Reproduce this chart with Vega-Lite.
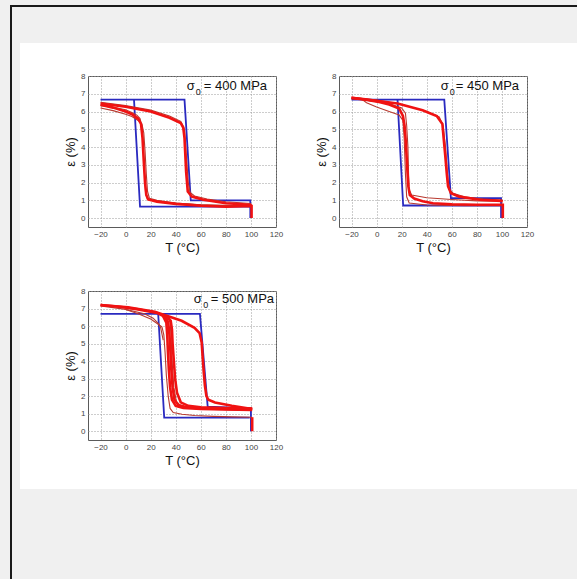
{
  "$schema": "https://vega.github.io/schema/vega-lite/v6.json",
  "background": "white",
  "padding": 0,
  "config": {
    "font": "Liberation Sans",
    "view": {"stroke": "#5a5a5a", "strokeWidth": 1},
    "axis": {
      "grid": true, "gridDash": [1, 2], "gridColor": "#9a9a9a", "gridWidth": 1,
      "domain": false, "ticks": false,
      "labelFont": "Liberation Sans", "labelFontSize": 8, "labelColor": "#444",
      "labelPadding": 3,
      "titleFont": "Liberation Sans", "titleFontSize": 13, "titleFontWeight": "normal", "titleColor": "#111",
      "titlePadding": 3
    }
  },
  "datasets": {
    "p400": [
      {"s":"b","g":"a","T":-20,"e":6.67},{"s":"b","g":"a","T":47,"e":6.67},{"s":"b","g":"a","T":52,"e":1.0},{"s":"b","g":"a","T":99.5,"e":1.0},{"s":"b","g":"a","T":99.5,"e":0},
      {"s":"b","g":"c","T":99.5,"e":0.65},{"s":"b","g":"c","T":11.5,"e":0.65},{"s":"b","g":"c","T":6.7,"e":6.67},
      {"s":"k","g":"h","T":-20,"e":6.45},{"s":"k","g":"h","T":0,"e":6.27},{"s":"k","g":"h","T":20,"e":6.0},{"s":"k","g":"h","T":35,"e":5.65},{"s":"k","g":"h","T":44,"e":5.35},{"s":"k","g":"h","T":46,"e":5.1},{"s":"k","g":"h","T":47,"e":4.5},{"s":"k","g":"h","T":48.3,"e":2.6},{"s":"k","g":"h","T":49.6,"e":1.5},{"s":"k","g":"h","T":52.8,"e":1.21},{"s":"k","g":"h","T":62,"e":1.03},{"s":"k","g":"h","T":80,"e":0.84},{"s":"k","g":"h","T":99.5,"e":0.75},{"s":"k","g":"h","T":100.5,"e":0.72},
      {"s":"k","g":"c","T":100.5,"e":0},{"s":"k","g":"c","T":100.5,"e":0.68},{"s":"k","g":"c","T":80,"e":0.64},{"s":"k","g":"c","T":60,"e":0.7},{"s":"k","g":"c","T":40,"e":0.8},{"s":"k","g":"c","T":25,"e":0.93},{"s":"k","g":"c","T":18,"e":1.05},{"s":"k","g":"c","T":16.5,"e":1.3},{"s":"k","g":"c","T":15.5,"e":2.0},{"s":"k","g":"c","T":14.5,"e":3.2},{"s":"k","g":"c","T":13.5,"e":4.5},{"s":"k","g":"c","T":12.3,"e":5.3},{"s":"k","g":"c","T":10,"e":5.6},{"s":"k","g":"c","T":5,"e":5.85},{"s":"k","g":"c","T":0,"e":6.0},{"s":"k","g":"c","T":-10,"e":6.22},{"s":"k","g":"c","T":-20,"e":6.38},
      {"s":"t","g":"1","T":100,"e":0.7},{"s":"t","g":"1","T":80,"e":0.7},{"s":"t","g":"1","T":60,"e":0.75},{"s":"t","g":"1","T":40,"e":0.85},{"s":"t","g":"1","T":25,"e":1.0},{"s":"t","g":"1","T":19,"e":1.12},{"s":"t","g":"1","T":17.5,"e":1.5},{"s":"t","g":"1","T":16.5,"e":2.5},{"s":"t","g":"1","T":15.5,"e":3.8},{"s":"t","g":"1","T":14.5,"e":4.8},{"s":"t","g":"1","T":13,"e":5.3},{"s":"t","g":"1","T":10,"e":5.5},{"s":"t","g":"1","T":5,"e":5.72},{"s":"t","g":"1","T":0,"e":5.85},{"s":"t","g":"1","T":-10,"e":6.05},{"s":"t","g":"1","T":-20,"e":6.2},
      {"s":"t","g":"2","T":-20,"e":6.33},{"s":"t","g":"2","T":-10,"e":6.24},{"s":"t","g":"2","T":0,"e":6.1},{"s":"t","g":"2","T":5,"e":5.95},{"s":"t","g":"2","T":9,"e":5.8},{"s":"t","g":"2","T":11.5,"e":5.6},{"s":"t","g":"2","T":13,"e":5.2},{"s":"t","g":"2","T":14,"e":4.2},{"s":"t","g":"2","T":15,"e":2.6},{"s":"t","g":"2","T":16,"e":1.4},{"s":"t","g":"2","T":17.5,"e":1.05},{"s":"t","g":"2","T":25,"e":0.95},{"s":"t","g":"2","T":40,"e":0.83},{"s":"t","g":"2","T":60,"e":0.75},{"s":"t","g":"2","T":80,"e":0.72},{"s":"t","g":"2","T":100,"e":0.7},
      {"s":"t","g":"3","T":-20,"e":6.52},{"s":"t","g":"3","T":0,"e":6.33},{"s":"t","g":"3","T":20,"e":6.08},{"s":"t","g":"3","T":35,"e":5.75},{"s":"t","g":"3","T":44,"e":5.45},{"s":"t","g":"3","T":47,"e":5.0},{"s":"t","g":"3","T":48.5,"e":3.5},{"s":"t","g":"3","T":50,"e":2.0},{"s":"t","g":"3","T":51.5,"e":1.45},{"s":"t","g":"3","T":55,"e":1.25},{"s":"t","g":"3","T":65,"e":1.08},{"s":"t","g":"3","T":80,"e":0.92},{"s":"t","g":"3","T":100,"e":0.82},
      {"s":"sig","g":"x","T":48.8,"e":7.45,"txt":"σ"},{"s":"sub","g":"x","T":56,"e":7.08,"txt":"0"},{"s":"rest","g":"x","T":62.4,"e":7.45,"txt":"= 400 MPa"}
    ],
    "p450": [
      {"s":"b","g":"a","T":-20,"e":6.67},{"s":"b","g":"a","T":54,"e":6.67},{"s":"b","g":"a","T":59.3,"e":1.12},{"s":"b","g":"a","T":99.3,"e":1.12},{"s":"b","g":"a","T":99.3,"e":0},
      {"s":"b","g":"c","T":99.3,"e":0.71},{"s":"b","g":"c","T":21.2,"e":0.71},{"s":"b","g":"c","T":16.7,"e":6.67},
      {"s":"k","g":"h","T":-20,"e":6.77},{"s":"k","g":"h","T":-9,"e":6.69},{"s":"k","g":"h","T":0,"e":6.6},{"s":"k","g":"h","T":16.7,"e":6.45},{"s":"k","g":"h","T":36.7,"e":6.07},{"s":"k","g":"h","T":48,"e":5.75},{"s":"k","g":"h","T":52.5,"e":5.3},{"s":"k","g":"h","T":53.5,"e":4.5},{"s":"k","g":"h","T":54.8,"e":3.5},{"s":"k","g":"h","T":56,"e":2.5},{"s":"k","g":"h","T":57,"e":1.8},{"s":"k","g":"h","T":59.3,"e":1.4},{"s":"k","g":"h","T":66,"e":1.21},{"s":"k","g":"h","T":82,"e":1.03},{"s":"k","g":"h","T":99.3,"e":0.97},{"s":"k","g":"h","T":100.7,"e":0.95},
      {"s":"k","g":"c","T":100.7,"e":0},{"s":"k","g":"c","T":100.7,"e":0.75},{"s":"k","g":"c","T":80,"e":0.75},{"s":"k","g":"c","T":60,"e":0.78},{"s":"k","g":"c","T":45,"e":0.84},{"s":"k","g":"c","T":36.7,"e":0.95},{"s":"k","g":"c","T":30,"e":1.1},{"s":"k","g":"c","T":26.5,"e":1.3},{"s":"k","g":"c","T":25.3,"e":1.8},{"s":"k","g":"c","T":24.3,"e":3.0},{"s":"k","g":"c","T":23.3,"e":4.3},{"s":"k","g":"c","T":22.3,"e":5.2},{"s":"k","g":"c","T":21,"e":5.75},{"s":"k","g":"c","T":18,"e":6.17},{"s":"k","g":"c","T":10,"e":6.4},{"s":"k","g":"c","T":2,"e":6.54},{"s":"k","g":"c","T":-10,"e":6.68},{"s":"k","g":"c","T":-20,"e":6.77},
      {"s":"t","g":"1","T":-20,"e":6.75},{"s":"t","g":"1","T":-12,"e":6.7},{"s":"t","g":"1","T":-8,"e":6.5},{"s":"t","g":"1","T":0,"e":6.25},{"s":"t","g":"1","T":10,"e":6.0},{"s":"t","g":"1","T":18,"e":5.8},{"s":"t","g":"1","T":21,"e":5.5},{"s":"t","g":"1","T":22,"e":4.5},{"s":"t","g":"1","T":23,"e":2.5},{"s":"t","g":"1","T":24,"e":1.2},{"s":"t","g":"1","T":26,"e":0.85},{"s":"t","g":"1","T":40,"e":0.74},{"s":"t","g":"1","T":70,"e":0.7},{"s":"t","g":"1","T":101,"e":0.7},
      {"s":"t","g":"2","T":100,"e":0.95},{"s":"t","g":"2","T":80,"e":0.97},{"s":"t","g":"2","T":60,"e":1.05},{"s":"t","g":"2","T":40,"e":1.15},{"s":"t","g":"2","T":28,"e":1.3},{"s":"t","g":"2","T":26,"e":1.6},{"s":"t","g":"2","T":25.5,"e":2.5},{"s":"t","g":"2","T":25,"e":4.0},{"s":"t","g":"2","T":24,"e":5.2},{"s":"t","g":"2","T":23,"e":5.9},{"s":"t","g":"2","T":20,"e":6.2},{"s":"t","g":"2","T":10,"e":6.45},{"s":"t","g":"2","T":-20,"e":6.75},
      {"s":"t","g":"3","T":-20,"e":6.8},{"s":"t","g":"3","T":0,"e":6.65},{"s":"t","g":"3","T":20,"e":6.4},{"s":"t","g":"3","T":40,"e":6.0},{"s":"t","g":"3","T":50,"e":5.7},{"s":"t","g":"3","T":53,"e":5.2},{"s":"t","g":"3","T":55,"e":4.0},{"s":"t","g":"3","T":56.5,"e":2.5},{"s":"t","g":"3","T":58,"e":1.6},{"s":"t","g":"3","T":61,"e":1.4},{"s":"t","g":"3","T":70,"e":1.2},{"s":"t","g":"3","T":85,"e":1.08},{"s":"t","g":"3","T":100,"e":1.02},
      {"s":"sig","g":"x","T":51.2,"e":7.45,"txt":"σ"},{"s":"sub","g":"x","T":58.4,"e":7.08,"txt":"0"},{"s":"rest","g":"x","T":63.2,"e":7.45,"txt":"= 450 MPa"}
    ],
    "p500": [
      {"s":"b","g":"a","T":-20,"e":6.7},{"s":"b","g":"a","T":59.3,"e":6.7},{"s":"b","g":"a","T":65.5,"e":1.4},{"s":"b","g":"a","T":100,"e":1.3},{"s":"b","g":"a","T":100,"e":0},
      {"s":"b","g":"c","T":99,"e":0.78},{"s":"b","g":"c","T":30.8,"e":0.78},{"s":"b","g":"c","T":26,"e":6.7},
      {"s":"k","g":"h","T":-20,"e":7.2},{"s":"k","g":"h","T":2,"e":7.07},{"s":"k","g":"h","T":23.3,"e":6.82},{"s":"k","g":"h","T":44.7,"e":6.3},{"s":"k","g":"h","T":55,"e":5.9},{"s":"k","g":"h","T":59,"e":5.6},{"s":"k","g":"h","T":60.7,"e":5.07},{"s":"k","g":"h","T":61.5,"e":4.2},{"s":"k","g":"h","T":62.3,"e":3.4},{"s":"k","g":"h","T":63.3,"e":2.59},{"s":"k","g":"h","T":64.5,"e":2.0},{"s":"k","g":"h","T":66,"e":1.8},{"s":"k","g":"h","T":71.3,"e":1.64},{"s":"k","g":"h","T":84.7,"e":1.45},{"s":"k","g":"h","T":101,"e":1.26},
      {"s":"k","g":"v","T":101,"e":0},{"s":"k","g":"v","T":101,"e":0.8},
      {"s":"k","g":"A","T":101,"e":1.26},{"s":"k","g":"A","T":80,"e":1.27},{"s":"k","g":"A","T":60,"e":1.3},{"s":"k","g":"A","T":48,"e":1.38},{"s":"k","g":"A","T":42,"e":1.5},{"s":"k","g":"A","T":39,"e":1.8},{"s":"k","g":"A","T":37.5,"e":2.5},{"s":"k","g":"A","T":36.5,"e":3.5},{"s":"k","g":"A","T":35.8,"e":4.5},{"s":"k","g":"A","T":35,"e":5.5},{"s":"k","g":"A","T":34,"e":6.2},{"s":"k","g":"A","T":32,"e":6.5},{"s":"k","g":"A","T":25,"e":6.75},{"s":"k","g":"A","T":10,"e":6.95},{"s":"k","g":"A","T":-5,"e":7.1},{"s":"k","g":"A","T":-20,"e":7.2},
      {"s":"k","g":"B","T":101,"e":1.22},{"s":"k","g":"B","T":80,"e":1.24},{"s":"k","g":"B","T":60,"e":1.27},{"s":"k","g":"B","T":46,"e":1.33},{"s":"k","g":"B","T":40,"e":1.45},{"s":"k","g":"B","T":37,"e":1.8},{"s":"k","g":"B","T":35.5,"e":2.5},{"s":"k","g":"B","T":34.5,"e":3.5},{"s":"k","g":"B","T":33.8,"e":4.5},{"s":"k","g":"B","T":33.2,"e":5.5},{"s":"k","g":"B","T":32.5,"e":6.2},{"s":"k","g":"B","T":30,"e":6.55},
      {"s":"k","g":"C","T":101,"e":1.3},{"s":"k","g":"C","T":80,"e":1.32},{"s":"k","g":"C","T":60,"e":1.36},{"s":"k","g":"C","T":50,"e":1.45},{"s":"k","g":"C","T":44,"e":1.65},{"s":"k","g":"C","T":41,"e":2.2},{"s":"k","g":"C","T":39.5,"e":3.0},{"s":"k","g":"C","T":38.5,"e":4.0},{"s":"k","g":"C","T":37.5,"e":5.0},{"s":"k","g":"C","T":37,"e":5.8},{"s":"k","g":"C","T":36,"e":6.3},{"s":"k","g":"C","T":33,"e":6.55},
      {"s":"t","g":"1","T":101,"e":0.8},{"s":"t","g":"1","T":85,"e":0.82},{"s":"t","g":"1","T":70,"e":0.85},{"s":"t","g":"1","T":55,"e":0.9},{"s":"t","g":"1","T":45,"e":0.97},{"s":"t","g":"1","T":38,"e":1.07},{"s":"t","g":"1","T":35.5,"e":1.3},{"s":"t","g":"1","T":34,"e":2.0},{"s":"t","g":"1","T":32.5,"e":3.2},{"s":"t","g":"1","T":31.5,"e":4.5},{"s":"t","g":"1","T":30.5,"e":5.5},{"s":"t","g":"1","T":29,"e":5.95},{"s":"t","g":"1","T":26,"e":6.1},{"s":"t","g":"1","T":20,"e":6.4},{"s":"t","g":"1","T":10,"e":6.7},{"s":"t","g":"1","T":0,"e":6.95},
      {"s":"t","g":"2","T":100,"e":1.2},{"s":"t","g":"2","T":70,"e":1.25},{"s":"t","g":"2","T":52,"e":1.33},{"s":"t","g":"2","T":44,"e":1.45},{"s":"t","g":"2","T":40.5,"e":1.7},{"s":"t","g":"2","T":38.5,"e":2.5},{"s":"t","g":"2","T":37.5,"e":3.5},{"s":"t","g":"2","T":36.8,"e":4.5},{"s":"t","g":"2","T":36.2,"e":5.5},{"s":"t","g":"2","T":35.5,"e":6.2},{"s":"t","g":"2","T":33.5,"e":6.5},
      {"s":"t","g":"3","T":-20,"e":7.15},{"s":"t","g":"3","T":0,"e":6.95},{"s":"t","g":"3","T":15,"e":6.7},{"s":"t","g":"3","T":22,"e":6.45},{"s":"t","g":"3","T":26,"e":6.15},{"s":"t","g":"3","T":28,"e":5.9},{"s":"t","g":"3","T":30,"e":5.2},
      {"s":"sig","g":"x","T":54.4,"e":7.57,"txt":"σ"},{"s":"sub","g":"x","T":62,"e":7.2,"txt":"0"},{"s":"rest","g":"x","T":68,"e":7.57,"txt":"= 500 MPa"}
    ]
  },
  "vconcat": [
    {"width": 577, "height": 5, "data": {"values": [{}]}, "mark": {"type": "rect", "color": "#f0f0f0"}, "view": {"stroke": null, "fill": "#f0f0f0"}},
    {
      "hconcat": [
        {"width": 10, "height": 574, "data": {"values": [{}]}, "mark": {"type": "rect", "color": "#f0f0f0"}, "view": {"stroke": null, "fill": "#f0f0f0"}},
        {"width": 2, "height": 574, "data": {"values": [{}]}, "mark": {"type": "rect", "color": "#1a1a1a"}, "view": {"stroke": null, "fill": "#1a1a1a"}},
        {
          "vconcat": [
            {"width": 565, "height": 2, "data": {"values": [{}]}, "mark": {"type": "rect", "color": "#1a1a1a"}, "view": {"stroke": null, "fill": "#1a1a1a"}},
            {"width": 565, "height": 36, "data": {"values": [{}]}, "mark": {"type": "rect", "color": "#f0f0f0"}, "view": {"stroke": null, "fill": "#f0f0f0"}},
            {
              "hconcat": [
                {"width": 8, "height": 446, "data": {"values": [{}]}, "mark": {"type": "rect", "color": "#f0f0f0"}, "view": {"stroke": null, "fill": "#f0f0f0"}},
                {
                  "vconcat": [
                    {"width": 1, "height": 1, "data": {"values": [{}]}, "mark": {"type": "rect", "opacity": 0}, "view": {"stroke": null}},
                    {
                      "vconcat": [
                        {
                          "hconcat": [
                            {
                              "width": 188, "height": 151,
                              "data": {"name": "p400"},
                              "encoding": {
                                "x": {"field": "T", "type": "quantitative", "scale": {"domain": [-30, 120], "nice": false, "zero": false}, "axis": {"values": [-20, 0, 20, 40, 60, 80, 100, 120], "title": "T (°C)", "labelFlush": false}},
                                "y": {"field": "e", "type": "quantitative", "scale": {"domain": [-0.5, 8], "nice": false, "zero": false}, "axis": {"values": [0, 1, 2, 3, 4, 5, 6, 7, 8], "title": "ε (%)"}}
                              },
                              "layer": [
                                {"transform": [{"filter": "datum.s === 'b'"}], "mark": {"type": "line", "color": "#2a2ac0", "strokeWidth": 1.8, "clip": true}, "encoding": {"detail": {"field": "g"}, "order": {"value": null}}},
                                {"transform": [{"filter": "datum.s === 't'"}], "mark": {"type": "line", "color": "#b83a30", "strokeWidth": 1.1, "clip": true}, "encoding": {"detail": {"field": "g"}, "order": {"value": null}}},
                                {"transform": [{"filter": "datum.s === 'k'"}], "mark": {"type": "line", "color": "#f01212", "strokeWidth": 2.6, "clip": true}, "encoding": {"detail": {"field": "g"}, "order": {"value": null}}},
                                {"transform": [{"filter": "datum.s === 'sig' || datum.s === 'rest'"}], "mark": {"type": "text", "align": "left", "baseline": "middle", "fontSize": 13, "color": "#111"}, "encoding": {"text": {"field": "txt"}}},
                                {"transform": [{"filter": "datum.s === 'sub'"}], "mark": {"type": "text", "align": "left", "baseline": "middle", "fontSize": 9, "color": "#111"}, "encoding": {"text": {"field": "txt"}}}
                              ]
                            },
                            {
                              "width": 188, "height": 151,
                              "data": {"name": "p450"},
                              "encoding": {
                                "x": {"field": "T", "type": "quantitative", "scale": {"domain": [-30, 120], "nice": false, "zero": false}, "axis": {"values": [-20, 0, 20, 40, 60, 80, 100, 120], "title": "T (°C)", "labelFlush": false}},
                                "y": {"field": "e", "type": "quantitative", "scale": {"domain": [-0.5, 8], "nice": false, "zero": false}, "axis": {"values": [0, 1, 2, 3, 4, 5, 6, 7, 8], "title": "ε (%)"}}
                              },
                              "layer": [
                                {"transform": [{"filter": "datum.s === 'b'"}], "mark": {"type": "line", "color": "#2a2ac0", "strokeWidth": 1.8, "clip": true}, "encoding": {"detail": {"field": "g"}, "order": {"value": null}}},
                                {"transform": [{"filter": "datum.s === 't'"}], "mark": {"type": "line", "color": "#b83a30", "strokeWidth": 1.1, "clip": true}, "encoding": {"detail": {"field": "g"}, "order": {"value": null}}},
                                {"transform": [{"filter": "datum.s === 'k'"}], "mark": {"type": "line", "color": "#f01212", "strokeWidth": 2.6, "clip": true}, "encoding": {"detail": {"field": "g"}, "order": {"value": null}}},
                                {"transform": [{"filter": "datum.s === 'sig' || datum.s === 'rest'"}], "mark": {"type": "text", "align": "left", "baseline": "middle", "fontSize": 13, "color": "#111"}, "encoding": {"text": {"field": "txt"}}},
                                {"transform": [{"filter": "datum.s === 'sub'"}], "mark": {"type": "text", "align": "left", "baseline": "middle", "fontSize": 9, "color": "#111"}, "encoding": {"text": {"field": "txt"}}}
                              ]
                            }
                          ],
                          "spacing": 31,
                          "align": "each"
                        },
                        {
                          "width": 188, "height": 149,
                          "data": {"name": "p500"},
                          "encoding": {
                            "x": {"field": "T", "type": "quantitative", "scale": {"domain": [-30, 120], "nice": false, "zero": false}, "axis": {"values": [-20, 0, 20, 40, 60, 80, 100, 120], "title": "T (°C)", "labelFlush": false}},
                            "y": {"field": "e", "type": "quantitative", "scale": {"domain": [-0.5, 8], "nice": false, "zero": false}, "axis": {"values": [0, 1, 2, 3, 4, 5, 6, 7, 8], "title": "ε (%)"}}
                          },
                          "layer": [
                            {"transform": [{"filter": "datum.s === 'b'"}], "mark": {"type": "line", "color": "#2a2ac0", "strokeWidth": 1.8, "clip": true}, "encoding": {"detail": {"field": "g"}, "order": {"value": null}}},
                            {"transform": [{"filter": "datum.s === 't'"}], "mark": {"type": "line", "color": "#b83a30", "strokeWidth": 1.1, "clip": true}, "encoding": {"detail": {"field": "g"}, "order": {"value": null}}},
                            {"transform": [{"filter": "datum.s === 'k'"}], "mark": {"type": "line", "color": "#f01212", "strokeWidth": 2.6, "clip": true}, "encoding": {"detail": {"field": "g"}, "order": {"value": null}}},
                            {"transform": [{"filter": "datum.s === 'sig' || datum.s === 'rest'"}], "mark": {"type": "text", "align": "left", "baseline": "middle", "fontSize": 13, "color": "#111"}, "encoding": {"text": {"field": "txt"}}},
                            {"transform": [{"filter": "datum.s === 'sub'"}], "mark": {"type": "text", "align": "left", "baseline": "middle", "fontSize": 9, "color": "#111"}, "encoding": {"text": {"field": "txt"}}}
                          ]
                        }
                      ],
                      "spacing": 31,
                      "align": "each"
                    }
                  ],
                  "spacing": 27,
                  "align": "each"
                }
              ],
              "spacing": 44,
              "align": "each"
            },
            {"width": 565, "height": 90, "data": {"values": [{}]}, "mark": {"type": "rect", "color": "#f0f0f0"}, "view": {"stroke": null, "fill": "#f0f0f0"}}
          ],
          "spacing": 0,
          "align": "each"
        }
      ],
      "spacing": 0,
      "align": "each"
    }
  ],
  "spacing": 0,
  "align": "each"
}
